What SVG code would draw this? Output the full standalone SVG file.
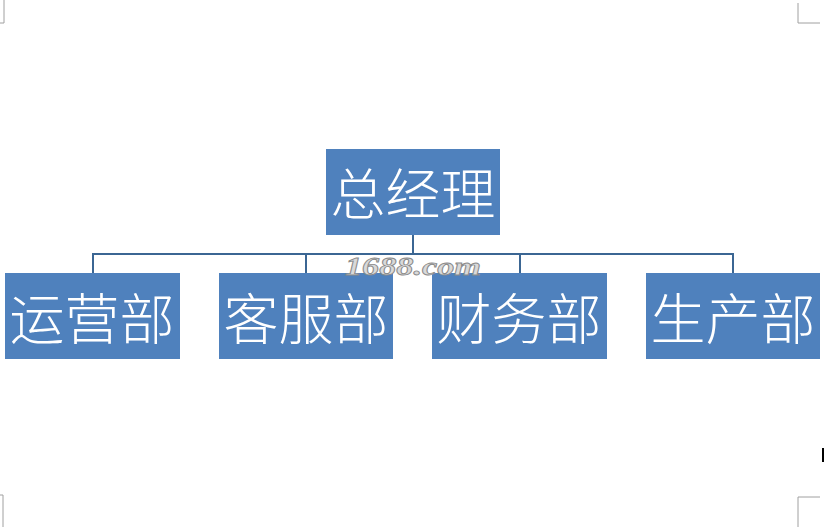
<svg xmlns="http://www.w3.org/2000/svg" width="826" height="527" viewBox="0 0 826 527">
<style>
.box{fill:#4f81bd}
.lbl{font-family:"Noto Sans CJK SC","Noto Sans CJK TC",sans-serif;font-size:55px;font-weight:300;fill:#ffffff;text-anchor:middle;dominant-baseline:central}
.conn{stroke:#3b6693;stroke-width:2;fill:none}
.mark{stroke:#a0a0a0;stroke-width:1;fill:none}
.wm{font-family:"Liberation Serif",serif;font-style:italic;font-weight:bold;font-size:25px;fill:#d9d9d9;stroke:#8a8a8a;stroke-width:0.8}
</style>
<rect width="826" height="527" fill="#ffffff"/>
<g id="page-marks">
<path class="mark" d="M4,0 V23 H0"/>
<path class="mark" d="M798,3 V23 H820"/>
<path class="mark" d="M3,527 V495 H0"/>
<path class="mark" d="M798,527 V497 H820"/>
<rect x="822" y="448" width="2" height="14" fill="#000000"/>
</g>
<g id="connectors">
<path class="conn" d="M413,235 V254"/>
<path class="conn" d="M93,273 V254 H733 V273"/>
<path class="conn" d="M306,254 V273"/>
<path class="conn" d="M520,254 V273"/>
</g>
<g id="ceo">
<rect class="box" x="326" y="149" width="174" height="86"/>
<text class="lbl" x="413" y="190">总经理</text>
</g>
<g id="ops">
<rect class="box" x="5" y="273" width="175" height="86"/>
<text class="lbl" x="92" y="315">运营部</text>
</g>
<g id="cs">
<rect class="box" x="219" y="273" width="174" height="86"/>
<text class="lbl" x="306" y="315">客服部</text>
</g>
<g id="fin">
<rect class="box" x="432" y="273" width="175" height="86"/>
<text class="lbl" x="519" y="315">财务部</text>
</g>
<g id="prod">
<rect class="box" x="646" y="273" width="174" height="86"/>
<text class="lbl" x="733" y="315">生产部</text>
</g>
<text class="wm" x="345" y="275" textLength="136" lengthAdjust="spacingAndGlyphs">1688.com</text>
</svg>
